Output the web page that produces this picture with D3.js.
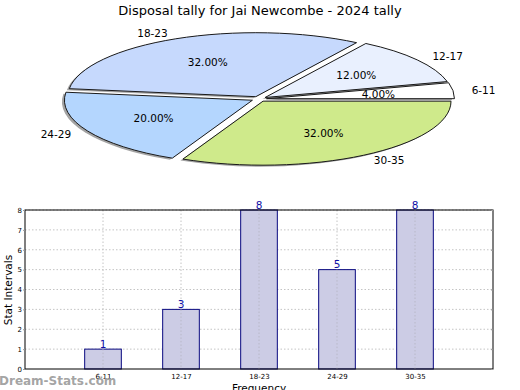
<!DOCTYPE html>
<html><head><meta charset="utf-8">
<script src="https://cdn.jsdelivr.net/npm/d3@7"></script>
<style>body{margin:0;background:#fff}svg{display:block;font-family:"DejaVu Sans",sans-serif}</style>
</head><body>
<svg id="c" width="520" height="390"></svg>
<script>
const title = "Disposal tally for Jai Newcombe - 2024 tally";
const categories = ["6-11","12-17","18-23","24-29","30-35"];
const counts = [1,3,8,5,8];
const sliceColors = ["#ffffff","#e9f0fe","#c6d9fd","#b4d6fe","#cfea8b"];
const yTicks = [0,1,2,3,4,5,6,7,8];
const yLabel = "Stat Intervals";
const xLabel = "Frequency";
const watermark = "Dream-Stats.com";

const svg = d3.select("#c");
svg.append("text").attr("x",260).attr("y",15).attr("text-anchor","middle")
  .attr("font-size",13).attr("fill","#000").text(title);

// ---------- Pie ----------
const cx = 259, cy = 99, rx = 188, ry = 64, expl = 0.04;
const total = d3.sum(counts);
const pie = d3.pie().sort(null).startAngle(Math.PI/2).endAngle(Math.PI/2 - 2*Math.PI);
const arcs = pie(counts);
const arc = d3.arc().innerRadius(0).outerRadius(1);
const pg = svg.append("g");
arcs.forEach((a,i)=>{
  const m = (a.startAngle + a.endAngle)/2;
  a.dx = expl*rx*Math.sin(m); a.dy = -expl*ry*Math.cos(m); a.m = m;
});
// shadows
arcs.forEach((a,i)=>{
  pg.append("path").attr("d",arc(a))
    .attr("transform",`translate(${cx+a.dx-2.5},${cy+a.dy+1.5}) scale(${rx},${ry})`)
    .attr("fill","#666").attr("fill-opacity",0.6);
});
arcs.forEach((a,i)=>{
  pg.append("path").attr("d",arc(a))
    .attr("transform",`translate(${cx+a.dx},${cy+a.dy}) scale(${rx},${ry})`)
    .attr("fill",sliceColors[i]).attr("stroke","#1a1a1a").attr("stroke-width",1)
    .attr("vector-effect","non-scaling-stroke");
});
arcs.forEach((a,i)=>{
  const sx = Math.sin(a.m), sy = -Math.cos(a.m);
  const lx = cx + a.dx + 1.1*rx*sx, ly = cy + a.dy + 1.1*ry*sy;
  pg.append("text").attr("x",lx).attr("y",ly).attr("dy","0.35em")
    .attr("text-anchor", sx>0?"start":"end").attr("font-size",10.5).text(categories[i]);
  const px = cx + a.dx + 0.6*rx*sx, py = cy + a.dy + 0.6*ry*sy;
  pg.append("text").attr("x",px).attr("y",py).attr("dy","0.35em")
    .attr("text-anchor","middle").attr("font-size",10.5)
    .text((counts[i]/total*100).toFixed(2)+"%");
});

// ---------- Bars ----------
const L=25, R=493, T=210, B=369;
const x = d3.scaleLinear().domain([0,categories.length+1]).range([L,R]);
const y = d3.scaleLinear().domain([0,8]).range([B,T]);
const bw = 0.47;
const bg = svg.append("g");
// grid
bg.selectAll(".hg").data(yTicks.slice(1)).join("line")
  .attr("x1",L).attr("x2",R).attr("y1",d=>y(d)).attr("y2",d=>y(d))
  .attr("stroke","#c4c4c4").attr("stroke-dasharray","1.5,2");
bg.selectAll(".vg").data(categories).join("line")
  .attr("x1",(d,i)=>x(i+1)).attr("x2",(d,i)=>x(i+1)).attr("y1",T).attr("y2",B)
  .attr("stroke","#c4c4c4").attr("stroke-dasharray","1.5,2");
bg.selectAll(".bar").data(counts).join("rect")
  .attr("x",(d,i)=>x(i+1-bw/2)).attr("width",x(bw)-x(0))
  .attr("y",d=>y(d)).attr("height",d=>B-y(d))
  .attr("fill","#ccccE5").attr("stroke","#0a0a80").attr("stroke-width",1);
// grid over bars (faint, as in reference)
bg.selectAll(".vg2").data(categories).join("line")
  .attr("x1",(d,i)=>x(i+1)).attr("x2",(d,i)=>x(i+1)).attr("y1",d=>y(counts[categories.indexOf(d)])).attr("y2",B)
  .attr("stroke","#b8b8c8").attr("stroke-dasharray","1.5,2");
bg.selectAll(".val").data(counts).join("text")
  .attr("x",(d,i)=>x(i+1)).attr("y",d=>y(d)-1.5).attr("text-anchor","middle")
  .attr("font-size",10.5).attr("fill","#1010a8").text(d=>d);
bg.append("rect").attr("x",L).attr("y",T).attr("width",R-L).attr("height",B-T)
  .attr("fill","none").attr("stroke","#000").attr("stroke-width",1);
// y axis
const ya = bg.append("g").attr("transform",`translate(${L},0)`)
  .call(d3.axisLeft(y).tickValues(yTicks).tickSize(2).tickPadding(1).tickFormat(d3.format("d")));
ya.select(".domain").remove();
ya.selectAll("text").attr("font-size",7).attr("font-family","DejaVu Sans");
ya.selectAll("line").attr("stroke","#999");
const yr = bg.append("g").attr("transform",`translate(${R},0)`)
  .call(d3.axisLeft(y).tickValues(yTicks).tickSize(2).tickFormat(""));
yr.select(".domain").remove(); yr.selectAll("line").attr("stroke","#999");
// x axis
const xa = bg.append("g").attr("transform",`translate(0,${B})`)
  .call(d3.axisBottom(x).tickValues(d3.range(1,categories.length+1)).tickSize(0).tickPadding(5)
    .tickFormat(d=>categories[d-1]));
xa.select(".domain").remove();
xa.selectAll("text").attr("font-size",7).attr("font-family","DejaVu Sans");
svg.append("text").attr("transform","translate(12,290) rotate(-90)").attr("text-anchor","middle")
  .attr("font-size",10.5).text(yLabel);
svg.append("text").attr("x",259).attr("y",392).attr("text-anchor","middle")
  .attr("font-size",10.5).text(xLabel);
svg.append("text").attr("x",-1).attr("y",385).attr("font-size",12).attr("font-weight","bold")
  .attr("fill","#999").attr("fill-opacity",0.9).text(watermark);
</script>
</body></html>
